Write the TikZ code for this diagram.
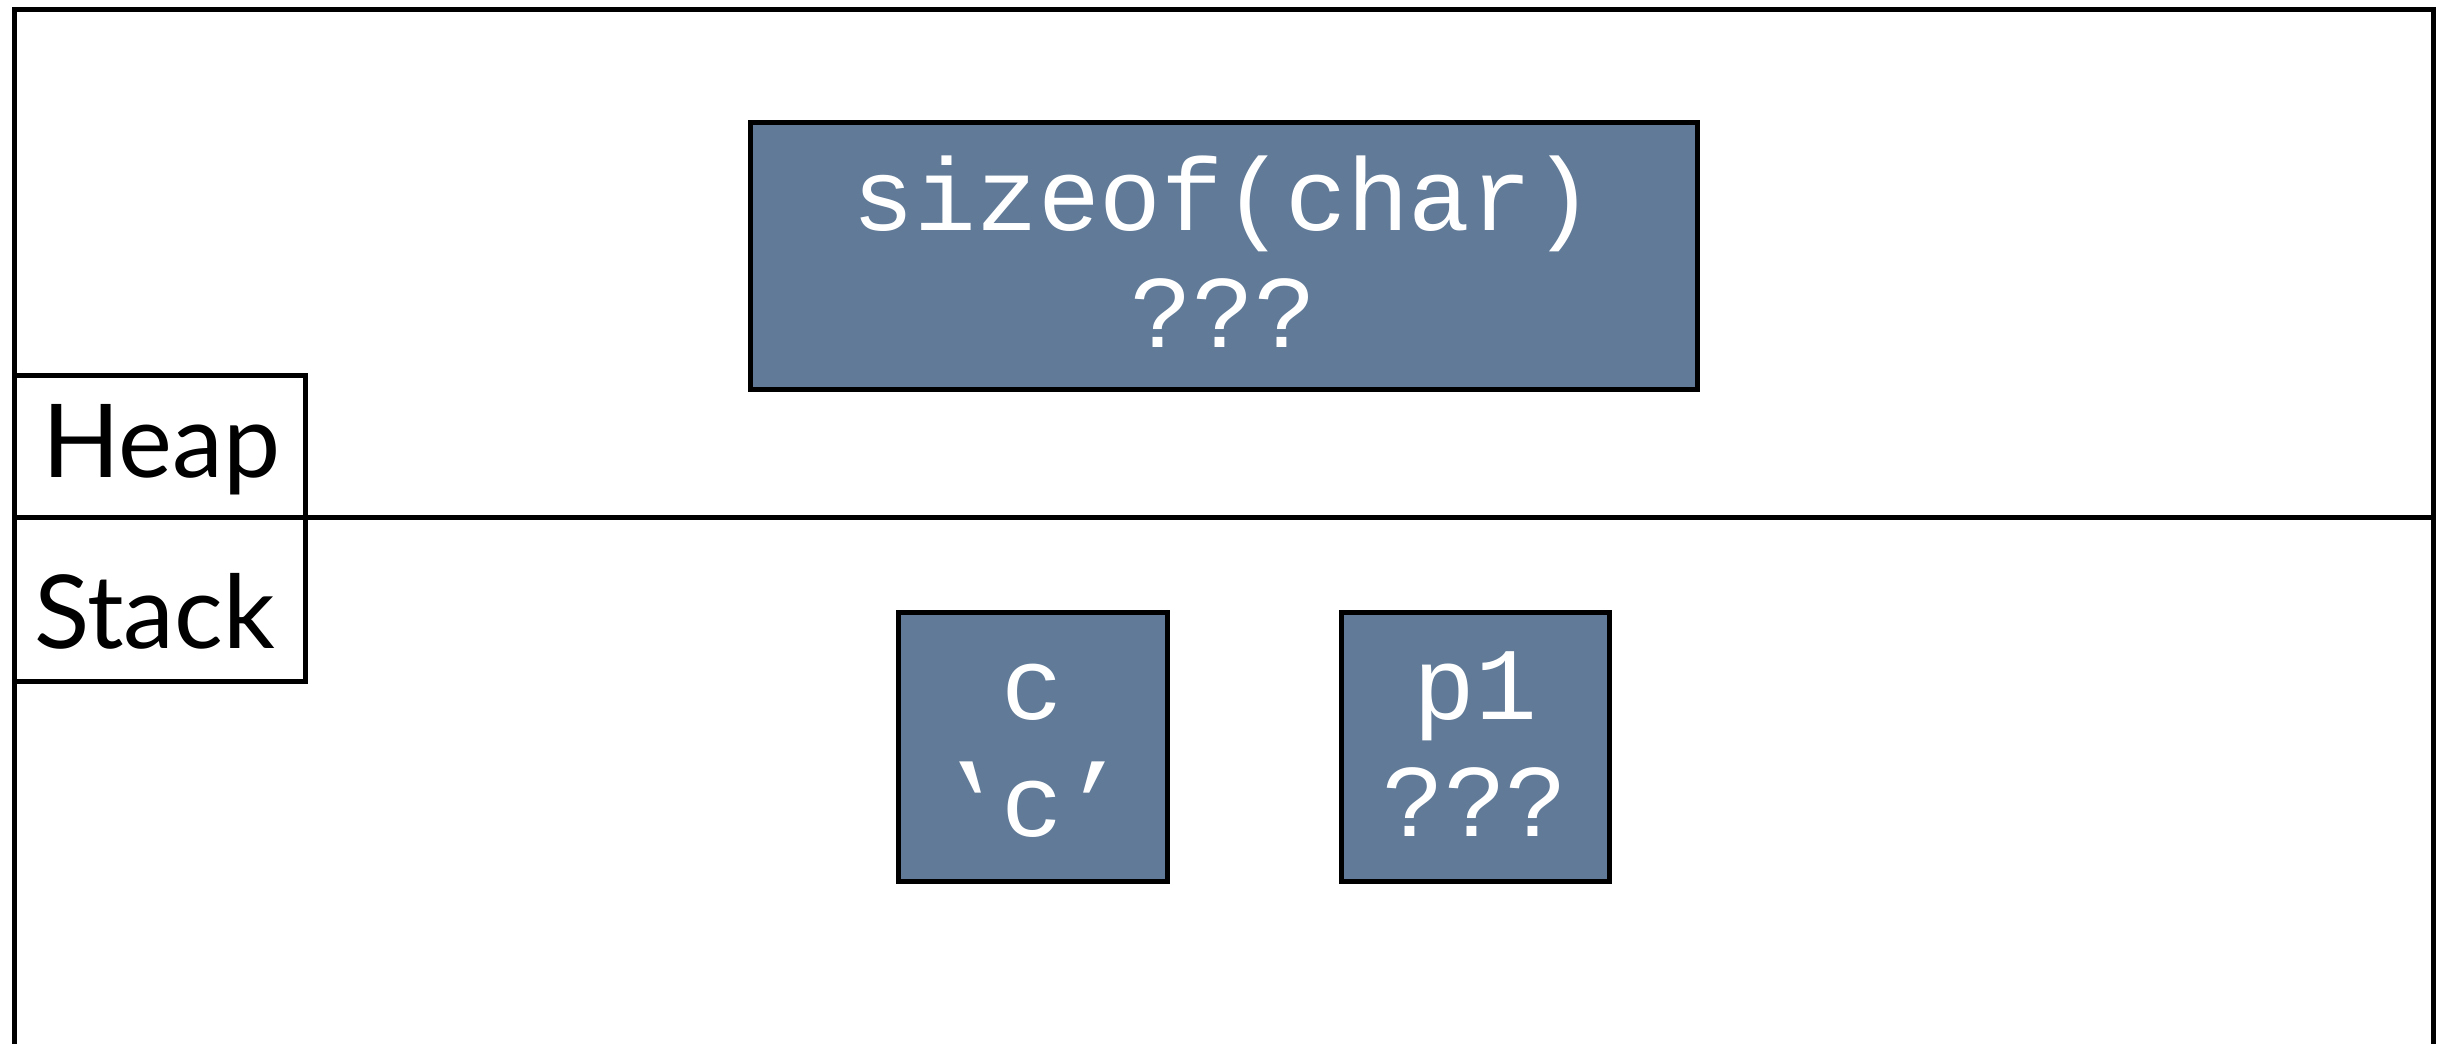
\documentclass[tikz,border=0pt]{standalone}
\usepackage{graphicx}
\usepackage{fontspec}
\setmainfont{Lato}
\newfontfamily\codefont{Liberation Mono}
\definecolor{boxblue}{RGB}{96,122,152}
\begin{document}
\begin{tikzpicture}[x=1pt,y=-1pt,
  cell/.style={draw=black, line width=5pt, fill=boxblue, inner sep=0pt},
  code/.style={text=white, font=\codefont\fontsize{103}{117}\selectfont, anchor=base, inner sep=0pt},
  seglabel/.style={draw=black, line width=5pt, inner sep=0pt},
  segtext/.style={font=\fontsize{102}{102}\selectfont, anchor=base west, inner sep=0pt},
  frame/.style={line width=5pt}]
\useasboundingbox (0,0) rectangle (2450,1044);
\fill[white] (0,0) rectangle (2450,1044);
% outer frame and divider
\coordinate (fbl) at (14,1044);
\coordinate (ftl) at (14,9);
\coordinate (ftr) at (2433,9);
\coordinate (fbr) at (2433,1044);
\coordinate (dl) at (14,517);
\coordinate (dr) at (2433,517);
\draw[frame] (fbl) -- (ftl) -- (ftr) -- (fbr);
\draw[frame] (dl) -- (dr);
% segment labels
\node[seglabel, minimum width=291, minimum height=142] (heap) at (159.5,446) {};
\node[seglabel, minimum width=291, minimum height=164] (stack) at (159.5,599) {};
\node[segtext] (heaptxt) at (42,477) {Heap};
\node[segtext] (stacktxt) at (34,648) {Stack};
% heap cell
\node[cell, minimum width=947, minimum height=267] (sz) at (1223.5,255.5) {};
\node[code] (sz1) at (1223.5,230) {sizeof(char)};
\node[code] (sz2) at (1223.5,347) {???};
% stack cells
\node[cell, minimum width=269, minimum height=269] (c) at (1032.5,746.5) {};
\node[code] (c1) at (1032.5,719) {c};
\node[code] (c2) at (1032.5,836) {\reflectbox{’}c’};
\node[cell, minimum width=268, minimum height=269] (p) at (1475,746.5) {};
\node[code] (p1) at (1475,719) {p1};
\node[code] (p2) at (1475,836) {???};
\end{tikzpicture}
\end{document}
